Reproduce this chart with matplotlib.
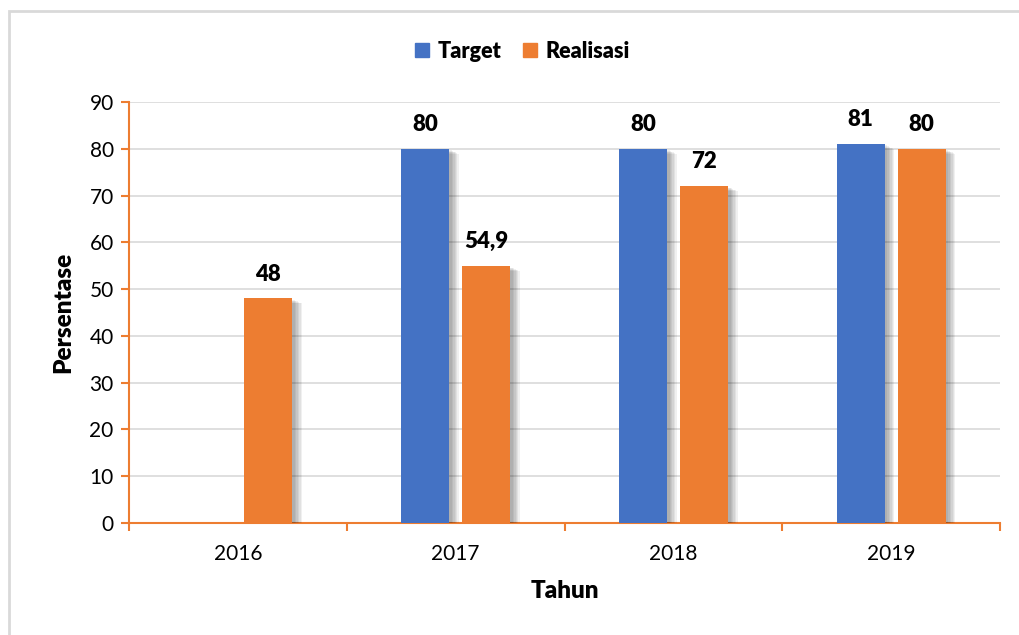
import matplotlib
matplotlib.use("Agg")
import matplotlib.pyplot as plt
import matplotlib.patheffects as pe
import numpy as np
from matplotlib.patches import Rectangle, Patch

# ── Data ──────────────────────────────────────────────────────────────
years = ["2016", "2017", "2018", "2019"]
target = [0, 80, 80, 81]
realisasi = [48, 54.9, 72, 80]
target_labels = ["", "80", "80", "81"]
realisasi_labels = ["48", "54,9", "72", "80"]

BLUE = "#4472C4"
ORANGE = "#ED7D31"

plt.rcParams["font.family"] = ["Lato", "DejaVu Sans"]

fig = plt.figure(figsize=(10.19, 6.35), dpi=100)
ax = fig.add_axes([0.1266, 0.1764, 0.9814 - 0.1266, 0.663])

# figure border (light gray, top-left visible)
fig.patches.append(Rectangle((9 / 1019, -0.05), 1.2, 1 - 11 / 635 + 0.05,
                             transform=fig.transFigure, fill=False,
                             edgecolor="#D9D9D9", linewidth=2))

# soft drop shadow like Excel
shadow = [pe.SimplePatchShadow(offset=(d, -d * 0.5), shadow_rgbFace="k", alpha=0.06)
          for d in (7, 6, 5, 4, 3, 2)] + [pe.Normal()]

x = np.arange(len(years))
w = 0.22
off = 0.14
b1 = ax.bar(x - off, target, w, color=BLUE, zorder=3)
b2 = ax.bar(x + off, realisasi, w, color=ORANGE, zorder=3)
for b in list(b1) + list(b2):
    if b.get_height() > 0:
        b.set_path_effects(shadow)

for xi, v, lab in zip(x, target, target_labels):
    if lab:
        ax.annotate(lab, (xi - off, v), xytext=(0, 10), textcoords="offset points",
                    ha="center", va="bottom", fontsize=16, fontweight="heavy")
for xi, v, lab in zip(x, realisasi, realisasi_labels):
    ax.annotate(lab, (xi + off, v), xytext=(0, 10), textcoords="offset points",
                ha="center", va="bottom", fontsize=16, fontweight="heavy")

ax.set_xlim(-0.5, len(years) - 0.5)
ax.set_ylim(0, 90)
ax.set_yticks(range(0, 91, 10))
ax.set_xticks(x)
ax.set_xticklabels(years)
ax.set_xticks(np.arange(-0.5, len(years), 1), minor=True)
ax.tick_params(axis="x", which="major", length=0, pad=15, labelsize=15)
ax.tick_params(axis="x", which="minor", length=6, width=1.5, color=ORANGE)
ax.tick_params(axis="y", length=6, width=1.5, color=ORANGE, labelsize=15, pad=5)

ax.yaxis.grid(True, color="#D9D9D9", linewidth=1.2, zorder=0)
ax.set_axisbelow(True)
for s in ("top", "right"):
    ax.spines[s].set_visible(False)
for s in ("left", "bottom"):
    ax.spines[s].set_color(ORANGE)
    ax.spines[s].set_linewidth(1.5)

ax.set_ylabel("Persentase", fontsize=17.5, fontweight="heavy", labelpad=11)
ax.set_xlabel("Tahun", fontsize=17.5, fontweight="heavy", labelpad=12)

handles = [Patch(color=BLUE), Patch(color=ORANGE)]
fig.legend(handles=handles, labels=["Target", "Realisasi"], loc="center",
           bbox_to_anchor=(522 / 1019, 1 - 51 / 635), ncol=2, frameon=False,
           prop={"weight": "heavy", "size": 15.5}, handlelength=0.65, handleheight=0.65,
           handletextpad=0.4, columnspacing=1.0)

fig.savefig("out.png", dpi=100)
